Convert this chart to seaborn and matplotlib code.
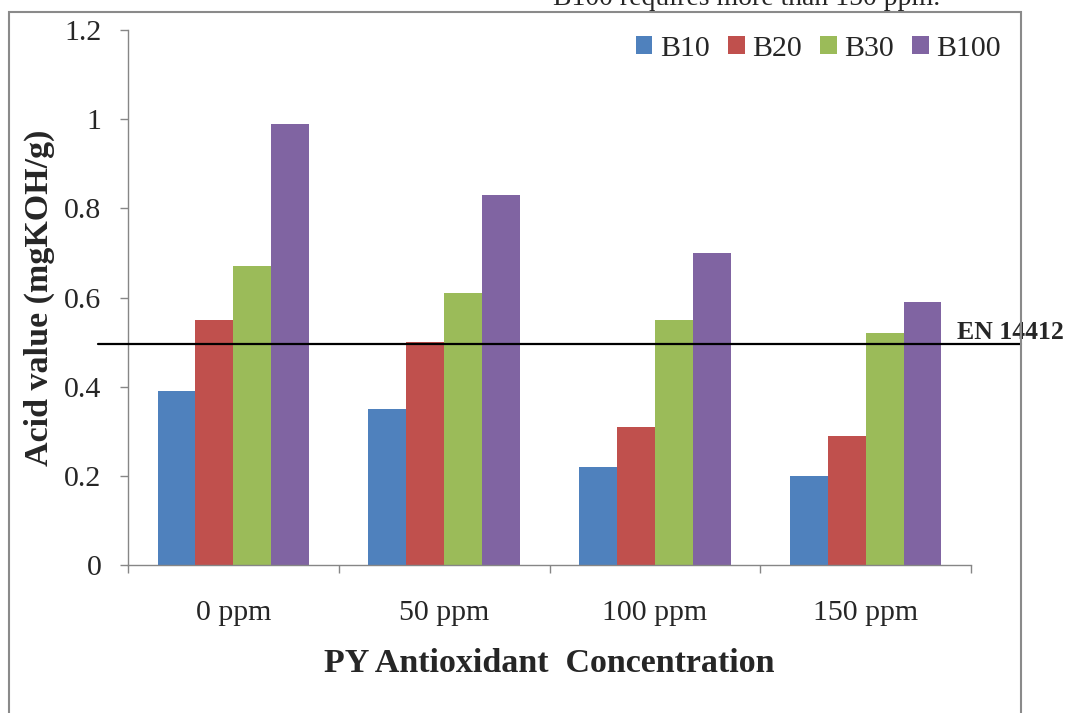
import matplotlib
matplotlib.use("Agg")
import matplotlib.pyplot as plt
from matplotlib.patches import Rectangle
from matplotlib.transforms import blended_transform_factory
import seaborn as sns
import pandas as pd

# Acid value of biodiesel blends vs. PY antioxidant dose
concentrations = ["0 ppm", "50 ppm", "100 ppm", "150 ppm"]
blends = ["B10", "B20", "B30", "B100"]
b10 = [0.39, 0.35, 0.22, 0.20]
b20 = [0.55, 0.50, 0.31, 0.29]
b30 = [0.67, 0.61, 0.55, 0.52]
b100 = [0.99, 0.83, 0.70, 0.59]
acid_limit = 0.495
limit_label = "EN 14412"
note_text = "B100 requires more than 150 ppm."
y_ticks = [0, 0.2, 0.4, 0.6, 0.8, 1, 1.2]
y_tick_labels = ["0", "0.2", "0.4", "0.6", "0.8", "1", "1.2"]

colors = ["#4F81BD", "#C0504D", "#9BBB59", "#8064A2"]

df = pd.DataFrame({
    "conc": concentrations * 4,
    "blend": [b for b in blends for _ in concentrations],
    "value": b10 + b20 + b30 + b100,
})

sns.set_theme(style="white")
plt.rcParams["font.family"] = ["Liberation Serif", "DejaVu Serif"]

W, H = 1067, 713
fig = plt.figure(figsize=(W / 100, H / 100), dpi=100)
ax = fig.add_axes([128 / W, (H - 565) / H, (971 - 128) / W, (565 - 30) / H])

sns.barplot(data=df, x="conc", y="value", hue="blend", order=concentrations,
            hue_order=blends, palette=colors, width=0.72, gap=0,
            saturation=1, edgecolor="none", linewidth=0, ax=ax)

ax.set_xlim(-0.5, 3.5)
ax.set_ylim(0, 1.2)
ax.set_yticks(y_ticks)
ax.set_yticklabels(y_tick_labels)

gray = "#868686"
for side in ["top", "right"]:
    ax.spines[side].set_visible(False)
for side in ["left", "bottom"]:
    ax.spines[side].set_color(gray)
    ax.spines[side].set_linewidth(1.0)

ax.tick_params(axis="y", which="major", direction="out", length=6, width=1,
               color=gray, labelsize=21.5, pad=13, left=True)
ax.tick_params(axis="x", which="major", length=0, labelsize=21.5, pad=25)
ax.set_xticks([-0.5, 0.5, 1.5, 2.5, 3.5], minor=True)
ax.tick_params(axis="x", which="minor", direction="out", length=6, width=1,
               color=gray, bottom=True)

ax.set_ylabel("Acid value (mgKOH/g)", fontsize=24.5, fontweight="bold", labelpad=7)
ax.set_xlabel("PY Antioxidant  Concentration", fontsize=24.5, fontweight="bold",
              labelpad=16)
ax.grid(False)

# Standard limit line, running past both ends of the plot area
tr = blended_transform_factory(ax.transAxes, ax.transData)
ax.plot([(98 - 128) / 843, (1021 - 128) / 843], [acid_limit, acid_limit],
        color="black", lw=1.6, transform=tr, clip_on=False, zorder=5)
ax.text((957 - 128) / 843, acid_limit, limit_label, transform=tr,
        fontsize=18.5, fontweight="bold", ha="left", va="bottom", zorder=6)

# Legend across the top right
handles, labels = ax.get_legend_handles_labels()
ax.legend(handles, labels, ncol=4, loc="center right", frameon=False,
          bbox_to_anchor=(1001 / W, (H - 49) / H), bbox_transform=fig.transFigure,
          fontsize=21.5, handlelength=0.55, handleheight=0.55, handletextpad=0.25,
          columnspacing=0.62, borderpad=0, borderaxespad=0)

# Outer chart frame
fig.patches.append(Rectangle((9 / W, -0.05), (1021 - 9) / W, (H - 12) / H + 0.05,
                             transform=fig.transFigure, fill=False,
                             edgecolor="#8A8A8A", lw=1.5, zorder=0))

fig.text(553 / W, (H - 5) / H, note_text, fontsize=20, ha="left",
         va="baseline")

fig.savefig("out.png", dpi=100)
